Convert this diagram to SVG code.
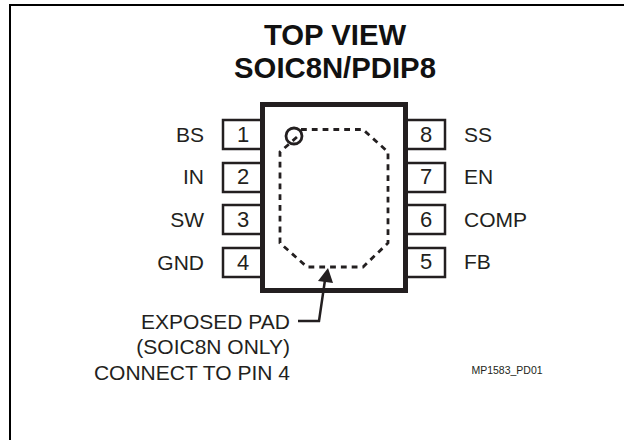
<svg xmlns="http://www.w3.org/2000/svg" width="624" height="440" viewBox="0 0 624 440">
<style>
text{font-family:"Liberation Sans",Arial,sans-serif;fill:#231f20}
.t{font-size:29.3px;font-weight:bold;text-anchor:middle;fill:#111}
.l{font-size:21px}
.e{text-anchor:end}
.n{font-size:22px;text-anchor:middle}
.pin{fill:#fff;stroke:#231f20;stroke-width:2.5}
.d{fill:none;stroke:#231f20;stroke-width:2.8;stroke-dasharray:5.8 5}
.c{fill:none;stroke:#231f20;stroke-width:2.5}
</style>
<rect width="624" height="440" fill="#fff"/>
<path d="M10 440V5H624" fill="none" stroke="#000" stroke-width="2"/>
<text class="t" x="335" y="45">TOP VIEW</text>
<text class="t" x="335" y="78">SOIC8N/PDIP8</text>
<g id="pin1"><rect class="pin" x="223" y="120" width="40" height="29"/><text class="n" x="243" y="142">1</text><text class="l e" x="204" y="142">BS</text></g>
<g id="pin2"><rect class="pin" x="223" y="163" width="40" height="29"/><text class="n" x="243" y="184">2</text><text class="l e" x="204" y="184">IN</text></g>
<g id="pin3"><rect class="pin" x="223" y="205" width="40" height="29"/><text class="n" x="243" y="227">3</text><text class="l e" x="204" y="227">SW</text></g>
<g id="pin4"><rect class="pin" x="223" y="248" width="40" height="29"/><text class="n" x="243" y="270">4</text><text class="l e" x="204" y="270">GND</text></g>
<g id="pin8"><rect class="pin" x="405" y="120" width="40" height="29"/><text class="n" x="426" y="142">8</text><text class="l" x="464" y="142">SS</text></g>
<g id="pin7"><rect class="pin" x="405" y="163" width="40" height="29"/><text class="n" x="426" y="184">7</text><text class="l" x="464" y="184">EN</text></g>
<g id="pin6"><rect class="pin" x="405" y="205" width="40" height="29"/><text class="n" x="426" y="227">6</text><text class="l" x="464" y="227">COMP</text></g>
<g id="pin5"><rect class="pin" x="405" y="248" width="40" height="29"/><text class="n" x="426" y="269">5</text><text class="l" x="464" y="269">FB</text></g>
<g id="package">
<rect x="262.5" y="104.5" width="143" height="186" fill="#fff" stroke="#231f20" stroke-width="5"/>
<path class="d" d="M301 129.5H363L388 152V243L363 267H307L280 243V152L297 137"/>
<circle cx="294" cy="136" r="8" fill="none" stroke="#231f20" stroke-width="2.8"/>
</g>
<g id="connectors">
<path class="c" d="M298 321H319L325 280"/>
<polygon points="328,268 333,283 318,281" fill="#231f20"/>
</g>
<g id="label">
<text class="l e" x="290" y="329">EXPOSED PAD</text>
<text class="l e" x="290" y="354">(SOIC8N ONLY)</text>
<text class="l e" x="290" y="380">CONNECT TO PIN 4</text>
<text x="507" y="374" font-size="10.5" text-anchor="middle">MP1583_PD01</text>
</g>
</svg>
